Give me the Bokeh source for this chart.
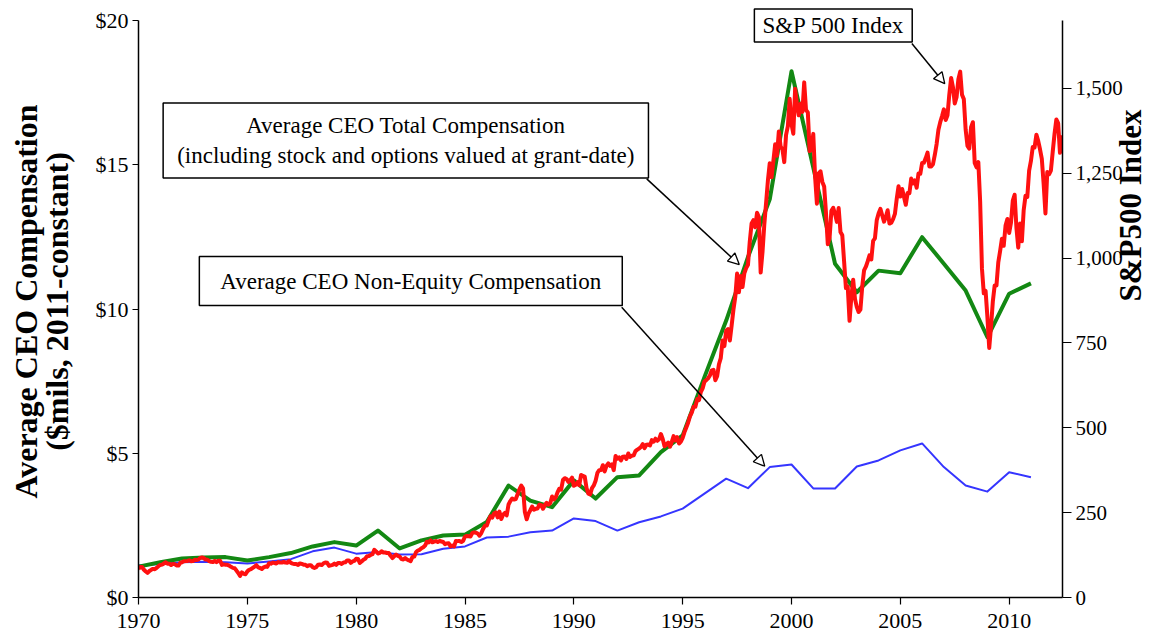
import math
from bokeh.plotting import figure
from bokeh.models import Range1d, LinearAxis, FixedTicker, Label, Arrow, NormalHead
from bokeh.embed import file_html
from bokeh.resources import INLINE

# ---------------- data ----------------
years = list(range(1970, 2012))
total_comp = [1.07, 1.22, 1.35, 1.39, 1.40, 1.28, 1.40, 1.54, 1.77, 1.92,
              1.80, 2.32, 1.70, 1.98, 2.15, 2.18, 2.62, 3.88, 3.36, 3.13,
              4.06, 3.43, 4.17, 4.23, 5.04, 5.62, 7.64, 9.60, 11.80, 13.80,
              18.24, 14.90, 11.57, 10.58, 11.33, 11.24, 12.49, 11.57, 10.64, 9.02,
              10.53, 10.89]
non_equity_comp = [1.11, 1.16, 1.22, 1.24, 1.22, 1.18, 1.25, 1.33, 1.60, 1.73,
                   1.52, 1.58, 1.49, 1.50, 1.69, 1.77, 2.08, 2.11, 2.26, 2.32,
                   2.74, 2.65, 2.32, 2.61, 2.81, 3.08, 3.60, 4.12, 3.79, 4.52,
                   4.61, 3.78, 3.78, 4.54, 4.75, 5.10, 5.34, 4.52, 3.88, 3.67,
                   4.34, 4.17]

# S&P 500 monthly, Jan 1970 - Jun 2012
sp500_1970s = [
    85.0, 89.5, 89.6, 81.5, 76.6, 72.7, 78.0, 81.5, 84.3, 83.3, 87.2, 92.2,
    95.9, 96.8, 100.3, 103.9, 99.6, 99.7, 95.6, 99.0, 98.3, 94.2, 94.0, 102.1,
    103.9, 106.6, 107.2, 107.7, 109.5, 107.1, 107.4, 111.1, 110.6, 111.6, 116.7, 118.1,
    116.0, 111.7, 111.5, 107.0, 105.0, 104.3, 108.2, 104.3, 108.4, 108.3, 96.0, 97.6,
    96.6, 96.2, 94.0, 90.3, 87.3, 86.0, 79.3, 72.2, 63.5, 73.9, 70.0, 68.6,
    77.0, 81.6, 83.4, 87.3, 91.2, 95.2, 88.8, 86.9, 83.9, 89.0, 91.2, 90.2,
    100.9, 99.7, 102.8, 101.6, 100.2, 104.3, 103.4, 102.9, 105.2, 102.9, 102.1, 107.5,
    102.0, 99.8, 98.4, 98.4, 96.1, 100.5, 98.9, 96.8, 96.5, 92.3, 94.8, 95.1,
    89.3, 87.0, 89.2, 96.8, 97.2, 95.5, 100.7, 103.3, 102.5, 93.2, 94.7, 96.1,
    99.9, 96.3, 101.6, 101.8, 99.1, 102.9, 103.8, 109.3, 109.3, 101.8, 106.2, 107.9]
sp500_1980s = [
    114.2, 113.7, 102.1, 106.3, 111.2, 114.2, 121.7, 122.4, 125.5, 127.5, 140.5, 135.8,
    129.6, 131.3, 136.0, 132.8, 132.6, 131.2, 130.9, 122.8, 116.2, 121.9, 126.4, 122.6,
    120.4, 113.1, 112.0, 116.4, 111.9, 109.6, 107.1, 119.5, 120.4, 133.7, 138.5, 140.6,
    145.3, 148.1, 153.0, 164.4, 162.4, 168.1, 162.6, 164.4, 166.1, 163.6, 166.4, 164.9,
    163.4, 157.1, 159.2, 160.1, 150.6, 153.2, 150.7, 166.7, 166.1, 166.1, 163.6, 167.2,
    179.6, 181.2, 180.7, 179.8, 189.6, 191.9, 190.9, 188.6, 182.1, 189.8, 202.2, 211.3,
    211.8, 226.9, 238.9, 235.5, 247.4, 250.8, 236.1, 252.9, 231.3, 244.0, 249.2, 242.2,
    274.1, 284.2, 291.7, 288.4, 290.1, 304.0, 318.7, 329.8, 321.8, 251.8, 230.3, 247.1,
    257.1, 267.8, 258.9, 261.3, 262.2, 273.5, 272.0, 261.5, 271.9, 279.0, 273.7, 277.7,
    297.5, 288.9, 294.9, 309.6, 320.5, 318.0, 346.1, 351.5, 349.2, 340.4, 346.0, 353.4]
sp500_1990s = [
    329.1, 331.9, 339.9, 330.8, 361.2, 358.0, 356.2, 322.6, 306.1, 304.0, 322.2, 330.2,
    343.9, 367.1, 375.2, 375.3, 389.8, 371.2, 387.8, 395.4, 387.9, 392.5, 375.2, 417.1,
    408.8, 412.7, 403.7, 415.0, 415.4, 408.1, 424.2, 414.0, 417.8, 418.7, 431.4, 435.7,
    438.8, 443.4, 451.7, 440.2, 450.2, 450.5, 448.1, 463.6, 458.9, 467.8, 461.8, 466.5,
    481.6, 467.1, 445.8, 450.9, 456.5, 444.3, 458.3, 475.5, 462.7, 472.4, 453.7, 459.3,
    470.4, 487.4, 500.7, 514.7, 533.4, 544.8, 562.1, 561.9, 584.4, 581.5, 605.4, 615.9,
    636.0, 640.4, 645.5, 654.2, 669.1, 670.6, 640.0, 652.0, 687.3, 705.3, 757.0, 740.7,
    786.2, 790.8, 757.1, 801.3, 848.3, 885.1, 954.3, 899.5, 947.3, 914.6, 955.4, 970.4,
    980.3, 1049.3, 1101.8, 1111.8, 1090.8, 1133.8, 1120.7, 957.3, 1017.0, 1098.7, 1163.6, 1229.2,
    1279.6, 1238.3, 1286.4, 1335.2, 1301.8, 1372.7, 1328.7, 1320.4, 1282.7, 1362.9, 1388.9, 1469.3]
sp500_2000s = [
    1394.5, 1366.4, 1498.6, 1452.4, 1420.6, 1454.6, 1430.8, 1517.7, 1436.5, 1429.4, 1315.0, 1320.3,
    1366.0, 1239.9, 1160.3, 1249.5, 1255.8, 1224.4, 1211.2, 1133.6, 1040.9, 1059.8, 1139.5, 1148.1,
    1130.2, 1106.7, 1147.4, 1076.9, 1067.1, 989.8, 911.6, 916.1, 815.3, 885.8, 936.3, 879.8,
    855.7, 841.2, 848.2, 916.9, 963.6, 974.5, 990.3, 1008.0, 996.0, 1050.7, 1058.2, 1111.9,
    1131.1, 1144.9, 1126.2, 1107.3, 1120.7, 1140.8, 1101.7, 1104.2, 1114.6, 1130.2, 1173.8, 1211.9,
    1181.3, 1203.6, 1180.6, 1156.9, 1191.5, 1191.3, 1234.2, 1220.3, 1228.8, 1207.0, 1249.5, 1248.3,
    1280.1, 1280.7, 1294.8, 1310.6, 1270.1, 1270.2, 1276.7, 1303.8, 1335.9, 1377.9, 1400.6, 1418.3,
    1438.2, 1406.8, 1420.9, 1482.4, 1530.6, 1503.4, 1455.3, 1474.0, 1526.8, 1549.4, 1481.1, 1468.4,
    1378.6, 1330.6, 1322.7, 1385.6, 1400.4, 1280.0, 1267.4, 1282.8, 1166.4, 968.8, 896.2, 903.3,
    825.9, 735.1, 797.9, 872.8, 919.1, 919.3, 987.5, 1020.6, 1057.1, 1036.2, 1095.6, 1115.1]
sp500_2010s = [
    1073.9, 1104.5, 1169.4, 1186.7, 1089.4, 1030.7, 1101.6, 1049.3, 1141.2, 1183.3, 1180.6, 1257.6,
    1286.1, 1327.2, 1325.8, 1363.6, 1345.2, 1320.6, 1292.3, 1218.9, 1131.4, 1253.3, 1247.0, 1257.6,
    1312.4, 1365.7, 1408.5, 1397.9, 1310.3, 1362.2]

sp500 = sp500_1970s + sp500_1980s + sp500_1990s + sp500_2000s + sp500_2010s
sp_time = [1970 + i / 12 for i in range(len(sp500))]

x_ticks = [1970, 1975, 1980, 1985, 1990, 1995, 2000, 2005, 2010]
left_ticks = [0, 5, 10, 15, 20]
left_tick_labels = ["$0", "$5", "$10", "$15", "$20"]
right_ticks = [0, 250, 500, 750, 1000, 1250, 1500]
right_tick_labels = ["0", "250", "500", "750", "1,000", "1,250", "1,500"]

FONT = "Liberation Serif"

# axes run 0..20 ($) and 0..1700 (index); frame extends a little above for the top call-out
LEFT_MAX, RIGHT_MAX = 20, 1700
HEADROOM = 592 / 577  # frame height / axis height

# ---------------- figure ----------------
p = figure(width=1168, height=639, output_backend="svg", toolbar_location=None,
           x_range=Range1d(1970, 2012.45), y_range=Range1d(0, LEFT_MAX * HEADROOM),
           min_border_left=138, min_border_right=105, min_border_top=5, min_border_bottom=42)
p.extra_y_ranges = {"sp": Range1d(0, RIGHT_MAX * HEADROOM)}
right_ax = LinearAxis(y_range_name="sp")
p.add_layout(right_ax, "right")
p.grid.visible = False
p.outline_line_color = None
p.background_fill_color = "white"
p.border_fill_color = "white"

left_ax = p.left[0]
bottom_ax = p.below[0]

for ax in (left_ax, bottom_ax, right_ax):
    ax.axis_line_color = "black"
    ax.axis_line_width = 1.5
    ax.major_tick_line_color = "black"
    ax.major_tick_line_width = 1.2
    ax.major_tick_in = 0
    ax.major_tick_out = 6
    ax.minor_tick_line_color = None
    ax.major_label_text_font = FONT
    ax.major_label_text_font_size = "22px"
    ax.major_label_text_color = "black"
    ax.major_label_standoff = 4

bottom_ax.ticker = FixedTicker(ticks=x_ticks, minor_ticks=[])
bottom_ax.major_label_overrides = {t: str(t) for t in x_ticks}
bottom_ax.major_tick_out = 7
bottom_ax.major_label_standoff = 9

left_ax.ticker = FixedTicker(ticks=left_ticks, minor_ticks=[])
left_ax.bounds = (0, LEFT_MAX)
left_ax.major_label_overrides = dict(zip(left_ticks, left_tick_labels))
left_ax.axis_label = "Average CEO Compensation\n($mils, 2011-constant)"
left_ax.axis_label_text_font = FONT
left_ax.axis_label_text_font_style = "bold"
left_ax.axis_label_text_font_size = "32px"
left_ax.axis_label_text_line_height = 0.85
left_ax.axis_label_text_color = "black"
left_ax.axis_label_standoff = 18

right_ax.ticker = FixedTicker(ticks=right_ticks, minor_ticks=[])
right_ax.bounds = (0, RIGHT_MAX)
right_ax.major_label_overrides = dict(zip(right_ticks, right_tick_labels))
right_ax.major_label_text_font_size = "21px"
right_ax.major_tick_out = 9
right_ax.major_label_standoff = 4

right_title = "S&P500 Index"
if "axis_label_orientation" in LinearAxis.properties():
    right_ax.axis_label = right_title
    right_ax.axis_label_orientation = math.pi / 2
    right_ax.axis_label_text_font = FONT
    right_ax.axis_label_text_font_style = "bold"
    right_ax.axis_label_text_font_size = "31px"
    right_ax.axis_label_text_line_height = 1.0
    right_ax.axis_label_text_color = "black"
    right_ax.axis_label_standoff = 5
else:
    p.add_layout(Label(x=1150, y=329, x_units="screen", y_units="screen",
                       text=right_title, angle=math.pi / 2,
                       text_align="center", text_baseline="middle", text_font=FONT,
                       text_font_style="bold", text_font_size="32px", text_color="black"))

# ---------------- lines ----------------
p.line(years, non_equity_comp, line_color="#3535ff", line_width=2, line_join="round")
p.line(years, total_comp, line_color="#138813", line_width=4, line_join="round")
p.line(sp_time, sp500, line_color="#ff1010", line_width=4, line_join="round", y_range_name="sp")

# ---------------- annotations ----------------
def box_label(x, y, text, pad):
    return Label(x=x, y=y, text=text, text_align="center", text_baseline="middle",
                 text_font=FONT, text_font_size="23px", text_color="black",
                 border_line_color="black", border_line_width=1.5,
                 background_fill_color="white", padding=pad)

p.add_layout(box_label(1982.28, 15.84,
                       "Average CEO Total Compensation\n(including stock and options valued at grant-date)",
                       (14, 10)))
p.add_layout(box_label(1982.51, 10.97, "Average CEO Non-Equity Compensation", (21, 12)))
p.add_layout(box_label(2001.92, 19.83, "S&P 500 Index", (8, 4)))

def arrow(xs, ys, xe, ye):
    return Arrow(end=NormalHead(size=11, fill_color="white", line_color="black", line_width=1.3),
                 x_start=xs, y_start=ys, x_end=xe, y_end=ye,
                 line_color="black", line_width=1.5)

p.add_layout(arrow(1993.35, 14.51, 1997.60, 11.54))
p.add_layout(arrow(1992.20, 10.06, 1998.77, 4.55))
p.add_layout(arrow(2005.53, 19.20, 2007.04, 17.81))

open("out.html", "w").write(file_html(p, INLINE))
